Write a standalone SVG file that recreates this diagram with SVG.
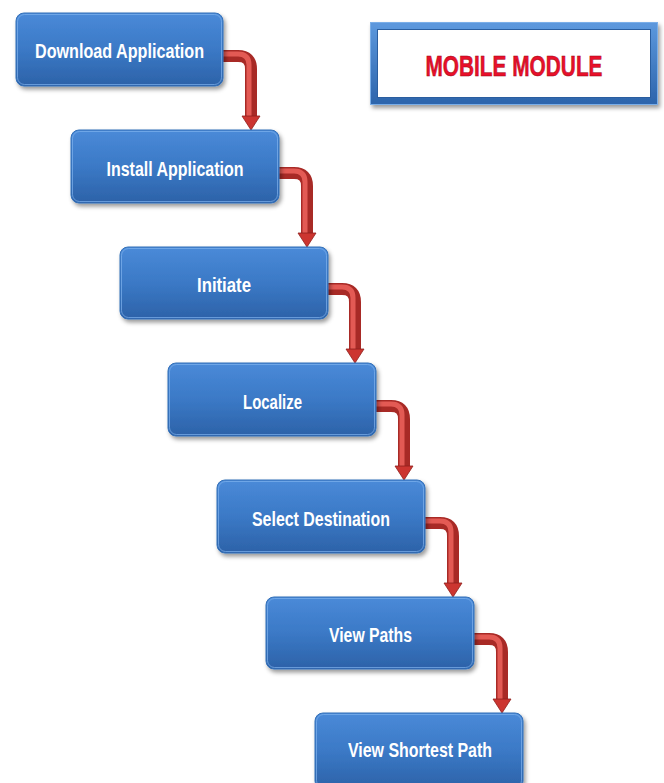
<svg xmlns="http://www.w3.org/2000/svg" width="664" height="783" viewBox="0 0 664 783">
<defs>
<linearGradient id="boxg" x1="0" y1="0" x2="0" y2="1">
<stop offset="0" stop-color="#4a8ad8"/>
<stop offset="0.5" stop-color="#3b79c6"/>
<stop offset="1" stop-color="#2c62a8"/>
</linearGradient>
<linearGradient id="frameg" x1="0" y1="0" x2="0" y2="1">
<stop offset="0" stop-color="#5b97dc"/>
<stop offset="1" stop-color="#2e66ad"/>
</linearGradient>
<filter id="sh" x="-10%" y="-10%" width="125%" height="135%">
<feDropShadow dx="2" dy="3" stdDeviation="2" flood-color="#000" flood-opacity="0.4"/>
</filter>
</defs>
<style>
.box{fill:url(#boxg);stroke:#3470b8;stroke-width:1;filter:url(#sh)}
.hl{fill:none;stroke:#7fb2ee;stroke-width:1;opacity:0.7}
.lbl{font-family:"Liberation Sans",Arial,sans-serif;font-weight:bold;font-size:21px;fill:#ffffff;text-anchor:middle}
.arr-o{fill:none;stroke:#a82a26;stroke-width:12}
.arr-i{fill:none;stroke:#e35a54;stroke-width:5}
.head{fill:#cc3530;stroke:#8f1f1c;stroke-width:0.8}
.title{font-family:"Liberation Sans",Arial,sans-serif;font-weight:bold;font-size:30px;fill:#e8102a;stroke:#9a0010;stroke-width:0.5;text-anchor:middle}
</style>

<g id="connectors">
<g>
<path class="arr-o" d="M223,56 H238 Q251,56 251,69 V117"/>
<path class="arr-i" d="M223,54 H238 Q249,54 249,65 V117"/>
<path class="head" d="M242,116 H260 L251,130 Z"/>
</g>
<g>
<path class="arr-o" d="M279,173 H294 Q307,173 307,186 V234"/>
<path class="arr-i" d="M279,171 H294 Q305,171 305,182 V234"/>
<path class="head" d="M298,233 H316 L307,247 Z"/>
</g>
<g>
<path class="arr-o" d="M328,289 H342 Q355,289 355,302 V350"/>
<path class="arr-i" d="M328,287 H342 Q353,287 353,298 V350"/>
<path class="head" d="M346,349 H364 L355,363 Z"/>
</g>
<g>
<path class="arr-o" d="M376,406 H391 Q404,406 404,419 V467"/>
<path class="arr-i" d="M376,404 H391 Q402,404 402,415 V467"/>
<path class="head" d="M395,466 H413 L404,480 Z"/>
</g>
<g>
<path class="arr-o" d="M425,523 H440 Q453,523 453,536 V584"/>
<path class="arr-i" d="M425,521 H440 Q451,521 451,532 V584"/>
<path class="head" d="M444,583 H462 L453,597 Z"/>
</g>
<g>
<path class="arr-o" d="M474,639 H489 Q502,639 502,652 V700"/>
<path class="arr-i" d="M474,637 H489 Q500,637 500,648 V700"/>
<path class="head" d="M493,699 H511 L502,713 Z"/>
</g>
</g>

<g id="n1">
<rect class="box" x="16" y="13" width="207" height="73" rx="8"/>
<rect class="hl" x="17.5" y="14.5" width="204" height="70" rx="7"/>
<text class="lbl" x="119.5" y="58" textLength="169" lengthAdjust="spacingAndGlyphs">Download Application</text>
</g>
<g id="n2">
<rect class="box" x="71" y="130" width="208" height="73" rx="8"/>
<rect class="hl" x="72.5" y="131.5" width="205" height="70" rx="7"/>
<text class="lbl" x="175" y="176" textLength="137" lengthAdjust="spacingAndGlyphs">Install Application</text>
</g>
<g id="n3">
<rect class="box" x="120" y="247" width="208" height="72" rx="8"/>
<rect class="hl" x="121.5" y="248.5" width="205" height="69" rx="7"/>
<text class="lbl" x="224" y="292" textLength="54" lengthAdjust="spacingAndGlyphs">Initiate</text>
</g>
<g id="n4">
<rect class="box" x="168" y="363" width="208" height="73" rx="8"/>
<rect class="hl" x="169.5" y="364.5" width="205" height="70" rx="7"/>
<text class="lbl" x="272.5" y="409" textLength="59" lengthAdjust="spacingAndGlyphs">Localize</text>
</g>
<g id="n5">
<rect class="box" x="217" y="480" width="208" height="73" rx="8"/>
<rect class="hl" x="218.5" y="481.5" width="205" height="70" rx="7"/>
<text class="lbl" x="321" y="526" textLength="138" lengthAdjust="spacingAndGlyphs">Select Destination</text>
</g>
<g id="n6">
<rect class="box" x="266" y="597" width="208" height="72" rx="8"/>
<rect class="hl" x="267.5" y="598.5" width="205" height="69" rx="7"/>
<text class="lbl" x="370.5" y="642" textLength="83" lengthAdjust="spacingAndGlyphs">View Paths</text>
</g>
<g id="n7">
<rect class="box" x="315" y="713" width="208" height="76" rx="8"/>
<rect class="hl" x="316.5" y="714.5" width="205" height="73" rx="7"/>
<text class="lbl" x="420" y="757" textLength="144" lengthAdjust="spacingAndGlyphs">View Shortest Path</text>
</g>

<g id="title">
<rect x="373.5" y="25.5" width="281" height="76" fill="#ffffff" stroke="url(#frameg)" stroke-width="7" filter="url(#sh)"/>
<rect x="377.5" y="29.5" width="273" height="68" fill="none" stroke="#2a5e9f" stroke-width="1"/>
<rect x="370.5" y="22.5" width="287" height="82" fill="none" stroke="#7aaee8" stroke-width="1"/>
<text class="title" x="514" y="76" textLength="177" lengthAdjust="spacingAndGlyphs">MOBILE MODULE</text>
</g>
</svg>
